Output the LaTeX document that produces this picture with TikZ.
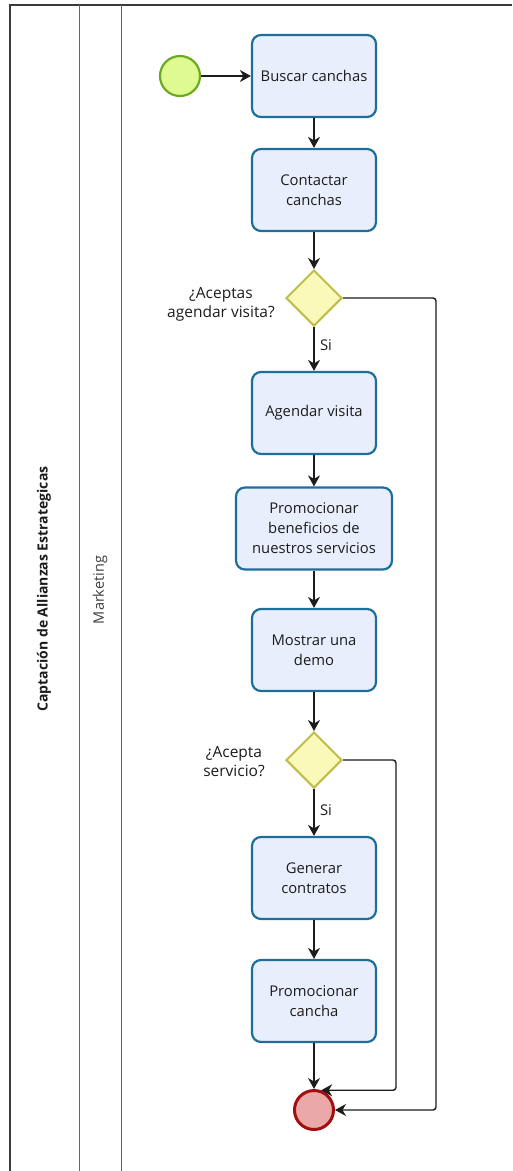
\documentclass[tikz,border=0pt]{standalone}
\usepackage{fontspec}
\setmainfont{Open Sans}
\usetikzlibrary{arrows.meta,shapes.geometric}
\definecolor{taskline}{HTML}{1E6E9A}
\definecolor{taskfill}{HTML}{E9EEFC}
\definecolor{startline}{HTML}{6AAA22}
\definecolor{startfill}{HTML}{E0FA92}
\definecolor{endline}{HTML}{A30F0F}
\definecolor{endfill}{HTML}{EBA8A8}
\definecolor{gwline}{HTML}{BDBD48}
\definecolor{gwfill}{HTML}{FAF9BA}
\definecolor{poolline}{HTML}{3A3A3A}
\definecolor{laneline}{HTML}{666666}
\definecolor{ink}{HTML}{1C1C1C}
\begin{document}
\begin{tikzpicture}[x=1pt,y=-1pt,
  txt/.style={font=\fontsize{14.8}{20}\selectfont, text=ink},
  task/.style={txt, draw=taskline, fill=taskfill, line width=2.2pt,
    rounded corners=9pt, minimum width=124pt, minimum height=82pt,
    align=center, inner sep=0pt},
  gateway/.style={diamond, draw=gwline, fill=gwfill, line width=2pt,
    minimum width=56pt, minimum height=56pt, inner sep=0pt},
  startev/.style={circle, draw=startline, fill=startfill, line width=2.2pt,
    minimum size=40pt, inner sep=0pt},
  endev/.style={circle, draw=endline, fill=endfill, line width=3pt,
    minimum size=39pt, inner sep=0pt},
  flow/.style={draw=ink, line width=1.4pt,
    -{Stealth[length=11pt,width=12pt,inset=3.5pt]}},
  gwlabel/.style={font=\fontsize{15.5}{19}\selectfont, text=ink, align=center},
  poolrule/.style={draw=poolline, line width=1.2pt},
  lanerule/.style={draw=laneline, line width=1pt}
]
\useasboundingbox (0,0) rectangle (512,1171);

% pool and lane frame
\draw[poolrule] (10,1171) -- (10,5) -- (512,5);
\draw[lanerule] (79,5) -- (79,1171);
\draw[lanerule] (121,5) -- (121,1171);
\node[rotate=90, font=\fontsize{14}{16}\selectfont\bfseries, text=ink] (pool) at (44,589) {Captación de Allianzas Estrategicas};
\node[rotate=90, font=\fontsize{14.5}{16}\selectfont, text=ink!85] (lane) at (100,590) {Marketing};

% events, tasks and gateways
\node[startev] (start) at (180,76) {};
\node[task] (t1) at (314,76) {Buscar canchas};
\node[task] (t2) at (314,190) {Contactar\\canchas};
\node[gateway] (g1) at (314,298) {};
\node[gwlabel] (g1l) at (221,304) {¿Aceptas\\agendar visita?};
\node[task] (t3) at (314,413) {Agendar visita};
\node[task, minimum width=156pt] (t4) at (314,528.5) {Promocionar\\beneficios de\\nuestros servicios};
\node[task] (t5) at (314,650) {Mostrar una\\demo};
\node[gateway] (g2) at (314,760) {};
\node[gwlabel] (g2l) at (234,762) {¿Acepta\\servicio?};
\node[task] (t6) at (314,878) {Generar\\contratos};
\node[task] (t7) at (314,1001) {Promocionar\\cancha};
\node[endev] (end) at (314,1110) {};

% sequence flows
\draw[flow] (start) -- (t1);
\draw[flow] (t1) -- (t2);
\draw[flow] (t2) -- (g1);
\draw[flow] (g1) -- node[txt, right, xshift=2pt, pos=0.42] (si1) {Si} (t3);
\draw[flow] (t3) -- (t4);
\draw[flow] (t4) -- (t5);
\draw[flow] (t5) -- (g2);
\draw[flow] (g2) -- node[txt, right, xshift=2pt, pos=0.45] (si2) {Si} (t6);
\draw[flow] (t6) -- (t7);
\draw[flow] (t7) -- (end);

\coordinate (r1) at (436,298);
\coordinate (r2) at (396,760);
\draw[flow, rounded corners=3pt] (g1.east) -- (r1) |- (end.east);
\draw[flow, rounded corners=3pt] (g2.east) -- (r2) |- (end.70);
\end{tikzpicture}
\end{document}
